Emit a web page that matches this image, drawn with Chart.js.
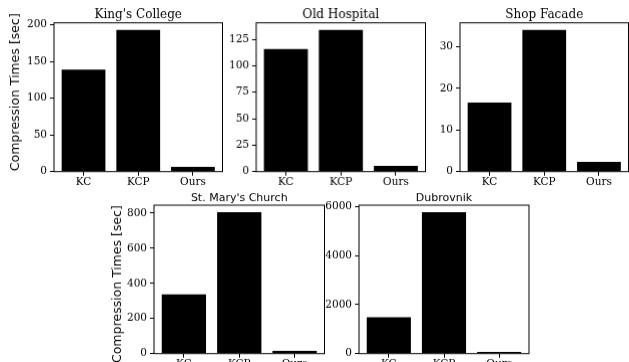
<!DOCTYPE html>
<html>
<head>
<meta charset="utf-8">
<script src="https://cdn.jsdelivr.net/npm/chart.js@4"></script>
<style>
  html, body { margin: 0; padding: 0; background: #fff; width: 629px; height: 362px; overflow: hidden; position: relative; }
  .panel { position: absolute; }
</style>
</head>
<body>
<script>
// ---- data ----
const categories = ['KC', 'KCP', 'Ours'];
const kingsCollege  = [139, 193, 6.5];
const oldHospital   = [115.8, 133.9, 5.4];
const shopFacade    = [16.6, 34.0, 2.35];
const stMarysChurch = [337, 805, 15];
const dubrovnik     = [1480, 5770, 70];

const kingsTicks    = [0, 50, 100, 150, 200];
const hospitalTicks = [0, 25, 50, 75, 100, 125];
const shopTicks     = [0, 10, 20, 30];
const maryTicks     = [0, 200, 400, 600, 800];
const dubrovnikTicks = [0, 2000, 4000, 6000];

const titles = ["King's College", 'Old Hospital', 'Shop Facade', "St. Mary's Church", 'Dubrovnik'];
const yLabel = 'Compression Times [sec]';

// ---- layout (axes boxes) ----
const panels = [
  { title: titles[0], data: kingsCollege,  ticks: kingsTicks,    box: [53.5, 22.7, 222, 170.7],   yw: 45, ylab: { x: 15.4, dy: -5 }, top: 0,   titleFont: 'DejaVu Serif', titleSize: 12, titlePad: 7.24 },
  { title: titles[1], data: oldHospital,   ticks: hospitalTicks, box: [256, 22.7, 424.5, 170.7],  yw: 40, ylab: null, top: 0,   titleFont: 'DejaVu Serif', titleSize: 12, titlePad: 7.24 },
  { title: titles[2], data: shopFacade,    ticks: shopTicks,     box: [459.5, 22.7, 628, 170.7],  yw: 40, ylab: null, top: 0,   titleFont: 'DejaVu Serif', titleSize: 12, titlePad: 7.24 },
  { title: titles[3], data: stMarysChurch, ticks: maryTicks,     box: [153.5, 205, 324, 352.7],   yw: 45, ylab: { x: 117.1, dy: 4.7 }, top: 180, titleFont: 'DejaVu Sans', titleSize: 11, titlePad: 11.8 },
  { title: titles[4], data: dubrovnik,     ticks: dubrovnikTicks, box: [358.5, 205, 528.5, 352.7], yw: 40, ylab: null, top: 180, titleFont: 'DejaVu Sans', titleSize: 11, titlePad: 11.8 }
];

const framePlugin = {
  id: 'frame',
  afterDatasetsDraw(chart) {
    const a = chart.chartArea;
    const ctx = chart.ctx;
    ctx.save();
    ctx.strokeStyle = '#000';
    ctx.lineWidth = 1;
    ctx.strokeRect(a.left, a.top, a.right - a.left, a.bottom - a.top);
    ctx.restore();
  }
};

const XH = 22;
const RP = 2;

panels.forEach(p => {
  const [l, t, r, b] = p.box;
  const TH = t - p.top;
  const div = document.createElement('div');
  div.className = 'panel';
  const left = l - p.yw;
  const width = p.yw + (r - l) + RP;
  const height = TH + (b - t) + XH;
  div.style.left = left + 'px';
  div.style.top = p.top + 'px';
  div.style.width = width + 'px';
  div.style.height = height + 'px';
  const canvas = document.createElement('canvas');
  div.appendChild(canvas);
  document.body.appendChild(div);

  const lineH = p.titleSize * 1.2;
  const padBottom = Math.max(0, TH - lineH - p.titlePad);
  const maxV = Math.max(...p.data) * 1.05;

  const ylabelPlugin = {
    id: 'ylabel',
    afterDraw(chart) {
      if (!p.ylab) return;
      const a = chart.chartArea;
      const ctx = chart.ctx;
      ctx.save();
      ctx.font = '12.5px "DejaVu Sans"';
      ctx.fillStyle = '#000';
      ctx.textAlign = 'center';
      ctx.textBaseline = 'middle';
      ctx.translate(p.ylab.x - left, (a.top + a.bottom) / 2 + p.ylab.dy);
      ctx.rotate(-Math.PI / 2);
      ctx.fillText(yLabel, 0, 0);
      ctx.restore();
    }
  };

  new Chart(canvas, {
    type: 'bar',
    data: {
      datasets: [{
        data: p.data.map((v, i) => ({ x: i, y: v })),
        backgroundColor: '#000',
        borderWidth: 0,
        barPercentage: 0.8,
        categoryPercentage: 1.0
      }]
    },
    options: {
      responsive: true,
      maintainAspectRatio: false,
      animation: false,
      devicePixelRatio: 1,
      layout: { padding: { left: 0, top: 0, right: RP, bottom: 0 } },
      plugins: {
        legend: { display: false },
        tooltip: { enabled: false },
        title: {
          display: true,
          fullSize: false,
          text: p.title,
          color: '#000',
          font: { family: p.titleFont, size: p.titleSize, weight: 'normal' },
          padding: { top: p.titlePad, bottom: padBottom }
        }
      },
      scales: {
        x: {
          type: 'linear',
          offset: false,
          min: -0.54,
          max: 2.54,
          afterBuildTicks: s => { s.ticks = categories.map((c, i) => ({ value: i })); },
          afterFit: s => { s.height = XH; },
          ticks: {
            color: '#000',
            font: { family: 'DejaVu Serif', size: 10.5 },
            padding: 0,
            maxRotation: 0,
            autoSkip: false,
            callback: v => categories[v]
          },
          grid: { display: true, offset: false, drawOnChartArea: false, drawTicks: true, tickLength: 4, color: '#000', lineWidth: 1 },
          border: { display: false }
        },
        y: {
          type: 'linear',
          min: 0,
          max: maxV,
          afterBuildTicks: s => { s.ticks = p.ticks.map(v => ({ value: v })); },
          afterFit: s => { s.width = p.yw; },
          ticks: {
            color: '#000',
            font: { family: 'DejaVu Serif', size: 10.5 },
            padding: 3,
            callback: v => String(v)
          },
          grid: { display: true, drawOnChartArea: false, drawTicks: true, tickLength: 4, color: '#000', lineWidth: 1 },
          border: { display: false }
        }
      }
    },
    plugins: [framePlugin, ylabelPlugin]
  });
});
</script>
</body>
</html>
